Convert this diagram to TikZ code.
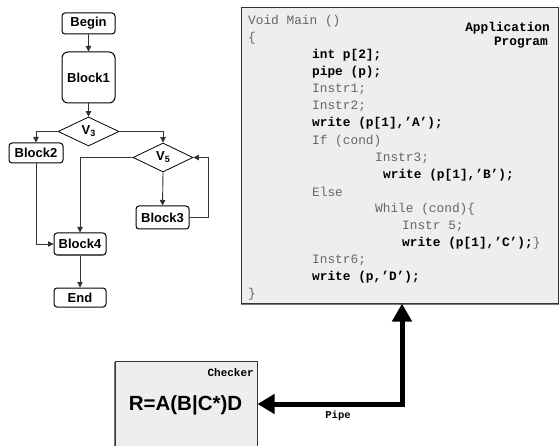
\documentclass[tikz,border=0pt]{standalone}
\usepackage{fontspec}
\setmainfont{Liberation Sans}
\setmonofont{Liberation Mono}
\usetikzlibrary{shapes.geometric,arrows.meta}
\definecolor{boxfill}{HTML}{EEEEEE}
\definecolor{codegray}{HTML}{666666}
\definecolor{shadowgray}{HTML}{777777}
\definecolor{linegray}{HTML}{333333}
\begin{document}
\begin{tikzpicture}[x=1pt,y=-1pt,
  blk/.style={draw=black,line width=1pt,rounded corners=3pt,fill=white,inner sep=0pt,
    font=\fontsize{13}{15}\selectfont\bfseries},
  dia/.style={draw=black,line width=0.8pt,diamond,inner sep=0pt,fill=white,
    font=\fontsize{13}{15}\selectfont\bfseries},
  flow/.style={draw=linegray,line width=0.9pt,-{Triangle[length=5.5pt,width=5.5pt]}},
  code/.style={anchor=west,inner sep=0pt,text=codegray,font=\ttfamily\fontsize{12.8}{15}\selectfont},
  codeb/.style={code,text=black,font=\ttfamily\bfseries\fontsize{12.8}{15}\selectfont},
  pipe/.style={line width=5pt,{Triangle[length=17pt,width=19pt]}-{Triangle[length=18pt,width=19pt]}}]
\useasboundingbox (0,0) rectangle (559,446);
\fill[white] (0,0) rectangle (559,446);

% ---------- flowchart ----------
\node[blk,minimum width=53pt,minimum height=21pt] (begin) at (88.5,23.5) {Begin};
\node[blk,rounded corners=6pt,minimum width=53pt,minimum height=51pt] (block1) at (88.5,77.5) {Block1};
\node[dia,minimum width=61pt,minimum height=29pt] (v3) at (88.5,131.5) {V\raisebox{-2pt}{\fontsize{9}{10}\selectfont 3}};
\node[blk,minimum width=54pt,minimum height=20pt] (block2) at (36,153) {Block2};
\node[dia,minimum width=60pt,minimum height=29pt] (v5) at (163,157.5) {V\raisebox{-2pt}{\fontsize{9}{10}\selectfont 5}};
\node[blk,minimum width=53pt,minimum height=23pt] (block3) at (162.5,217.5) {Block3};
\node[blk,minimum width=52pt,minimum height=22pt] (block4) at (80,244) {Block4};
\node[blk,minimum width=52pt,minimum height=19pt] (end) at (80,297.5) {End};

\draw[flow] (begin) -- (block1);
\draw[flow] (block1) -- (v3);
\draw[flow] (v3.west) -| (block2.north);
\draw[flow] (v3.east) -| (v5.north);
\draw[flow] (v5.west) -| (block4.north);
\draw[flow] (v5.south) -- (block3.north);
\draw[flow] (block3.east) -- ++(19,0) |- (v5.east);
\draw[flow] (block2.south) |- (block4.west);
\draw[flow] (block4) -- (end);

% ---------- application program box ----------
\draw[shadowgray,line width=2.5pt] (241,303.5) -- (558.5,303.5);
\node[draw=linegray,line width=1pt,fill=boxfill,minimum width=317.5pt,minimum height=295pt,inner sep=0pt]
  (app) at (399.75,155.5) {};
\node[code] (l1) at (248,21) {Void Main ()};
\node[code] (l2) at (248,38) {\{};
\node[codeb] (l3) at (312,55) {int p[2];};
\node[codeb] (l4) at (312,72) {pipe (p);};
\node[code] (l5) at (312,89) {Instr1;};
\node[code] (l6) at (312,106) {Instr2;};
\node[codeb] (l7) at (312,123) {write (p[1],’A’);};
\node[code] (l8) at (312,141) {If (cond)};
\node[code] (l9) at (375,158) {Instr3;};
\node[codeb] (l10) at (383,175) {write (p[1],’B’);};
\node[code] (l11) at (312,192) {Else};
\node[code] (l12) at (375,209) {While (cond)\{};
\node[code] (l13) at (402,226) {Instr 5;};
\node[code] (l14) at (402,243) {\textcolor{black}{\bfseries write (p[1],’C’);}\}};
\node[code] (l15) at (312,260) {Instr6;};
\node[codeb] (l16) at (312,277) {write (p,’D’);};
\node[code] (l17) at (248,294) {\}};
\node[codeb,anchor=east] (apt1) at (550,28) {Application};
\node[codeb,anchor=east] (apt2) at (548,43) {Program};

% ---------- checker box ----------
\draw[shadowgray,line width=2.5pt] (115.5,362) -- (115.5,450);
\node[draw=linegray,line width=1pt,fill=boxfill,minimum width=142pt,minimum height=90pt,inner sep=0pt]
  (chk) at (186,406) {};
\node[inner sep=0pt,anchor=east,font=\ttfamily\bfseries\fontsize{11}{13}\selectfont] (chklbl) at (254,373) {Checker};
\node[inner sep=0pt,font=\fontsize{20.5}{24}\selectfont\bfseries] (regex) at (185.5,405) {R=A(B|C*)D};

% ---------- pipe ----------
\coordinate (pc) at (402,404);
\draw[pipe] (chk.east |- pc) -- (pc) -- (pc |- app.south);
\node[inner sep=0pt,font=\ttfamily\bfseries\fontsize{10.5}{12}\selectfont] (pipelbl) at (338,416) {Pipe};
\end{tikzpicture}
\end{document}
